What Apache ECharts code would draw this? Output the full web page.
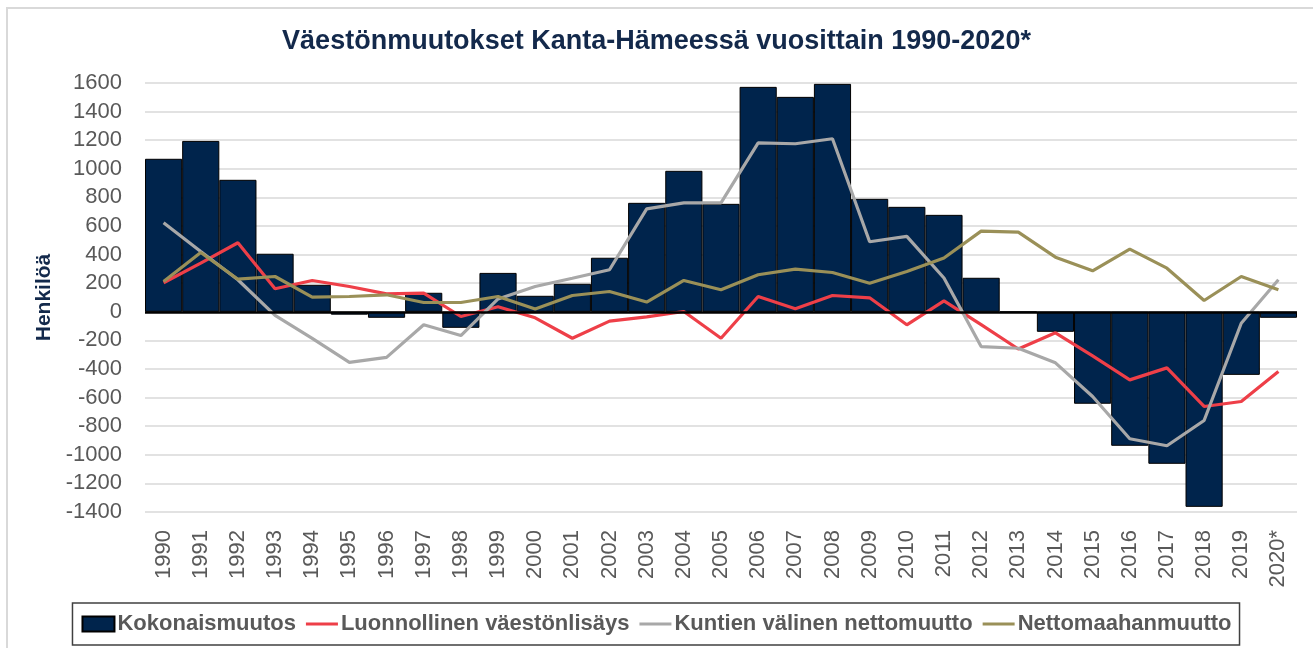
<!DOCTYPE html>
<html>
<head>
<meta charset="utf-8">
<script src="https://cdn.jsdelivr.net/npm/echarts@6/dist/echarts.min.js"></script>
<style>
  html, body {margin: 0; padding: 0; background: #fff;}
  #chart {width: 1313px; height: 648px;}
</style>
</head>
<body>
<div id="chart"></div>
<script>
// vuodet ja sarjat
const years = ['1990','1991','1992','1993','1994','1995','1996','1997','1998','1999','2000','2001','2002','2003','2004','2005','2006','2007','2008','2009','2010','2011','2012','2013','2014','2015','2016','2017','2018','2019','2020*'];
const kokonaismuutos = [1070,1195,923,406,189,-20,-42,133,-112,272,112,196,378,762,986,755,1573,1503,1594,790,734,678,238,-3,-140,-643,-937,-1063,-1364,-441,-42];
const luonnollinen = [203,340,483,161,219,177,125,130,-33,35,-42,-185,-65,-35,2,-185,107,21,114,98,-91,77,-90,-260,-147,-308,-476,-392,-662,-627,-417];
const kuntienValinen = [622,422,224,-25,-186,-354,-319,-91,-166,90,177,235,294,720,762,762,1181,1175,1210,490,527,236,-243,-255,-357,-592,-888,-937,-760,-80,224];
const nettomaahanmuutto = [212,415,228,247,103,107,119,65,65,107,19,114,142,68,219,154,259,298,275,200,282,376,564,557,382,287,438,305,79,247,154];

const font = 'Liberation Sans';
const lineIcon = 'path://M0,0h32v3.2h-32z';
const chart = echarts.init(document.getElementById('chart'));

let lineSeries = (name, data, color) => ({
    name: name,
    type: 'line',
    data: data,
    symbol: 'none',
    showSymbol: false,
    smooth: false,
    lineStyle: {color: color, width: 3.2},
    itemStyle: {color: color},
    z: 3
});

let option = {
    animation: false,
    textStyle: {fontFamily: font},
    graphic: [{
        type: 'rect',
        shape: {x: 7, y: 8, width: 1330, height: 680},
        style: {fill: 'none', stroke: '#d9d9d9', lineWidth: 2},
        silent: true
    }],
    title: {
        text: 'Väestönmuutokset Kanta-Hämeessä vuosittain 1990-2020*',
        left: 'center',
        top: 23,
        textStyle: {fontFamily: font, fontSize: 27, fontWeight: 'bold', color: '#13294b'}
    },
    legend: {
        left: 'center',
        top: 603,
        data: [
            {name: 'Kokonaismuutos', icon: 'rect'},
            {name: 'Luonnollinen väestönlisäys', icon: lineIcon},
            {name: 'Kuntien välinen nettomuutto', icon: lineIcon},
            {name: 'Nettomaahanmuutto', icon: lineIcon}
        ],
        symbolKeepAspect: true,
        itemWidth: 32,
        itemHeight: 15,
        itemGap: 10,
        padding: [10, 8, 10, 9],
        borderColor: '#404040',
        borderWidth: 1.5,
        textStyle: {fontFamily: font, fontSize: 22, fontWeight: 'bold', color: '#595959', padding: [0, 0, 0, -2]}
    },
    grid: {left: 145, right: 16, top: 83, bottom: 136},
    xAxis: {
        type: 'category',
        data: years,
        axisLine: {show: false, onZero: false},
        axisTick: {show: false},
        axisLabel: {rotate: 90, margin: 18, fontSize: 22, color: '#595959', fontFamily: font, interval: 0}
    },
    yAxis: {
        type: 'value',
        min: -1400,
        max: 1600,
        interval: 200,
        name: 'Henkilöä',
        nameLocation: 'middle',
        nameGap: 83,
        nameTextStyle: {fontFamily: font, fontSize: 21, fontWeight: 'bold', color: '#13294b'},
        axisLabel: {margin: 23, fontSize: 22, color: '#595959', fontFamily: font, formatter: v => String(v)},
        splitLine: {lineStyle: {color: '#d9d9d9', width: 1.5}}
    },
    series: [
        {
            name: 'Kokonaismuutos',
            type: 'bar',
            data: kokonaismuutos,
            barCategoryGap: '0%',
            itemStyle: {color: '#00244c', borderColor: '#000', borderWidth: 1},
            markLine: {
                silent: true,
                symbol: 'none',
                label: {show: false},
                lineStyle: {color: '#000', width: 2.5, type: 'solid'},
                data: [{yAxis: 0}]
            }
        },
        lineSeries('Luonnollinen väestönlisäys', luonnollinen, '#ee3f48'),
        lineSeries('Kuntien välinen nettomuutto', kuntienValinen, '#a8a8a8'),
        lineSeries('Nettomaahanmuutto', nettomaahanmuutto, '#9a9058')
    ]
};
chart.setOption(option);
</script>
</body>
</html>
